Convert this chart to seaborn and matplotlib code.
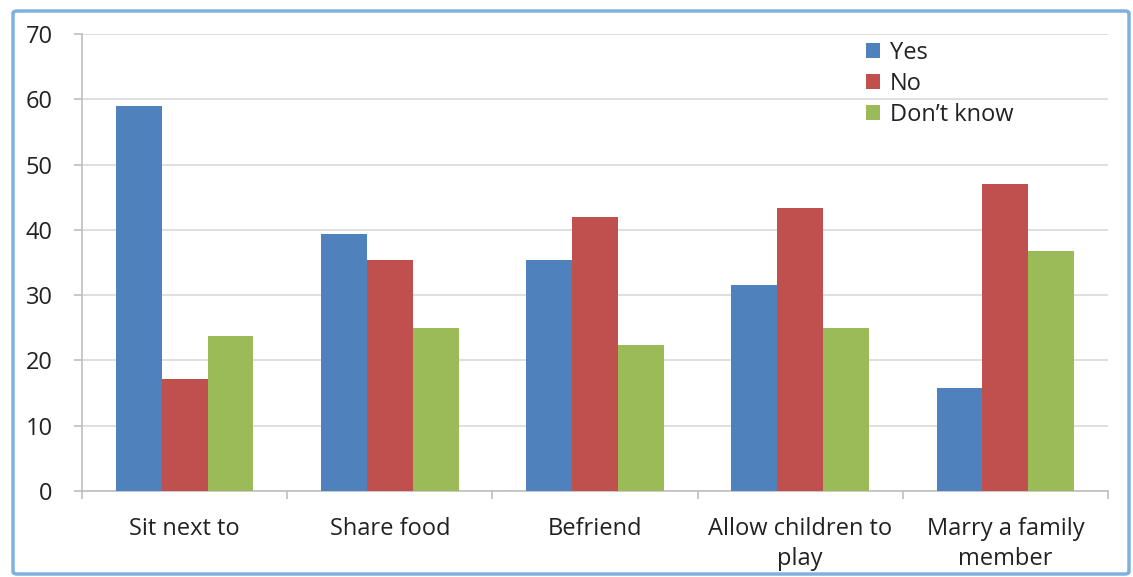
import matplotlib
matplotlib.use("Agg")
import matplotlib.pyplot as plt
from matplotlib.patches import FancyBboxPatch
from matplotlib.ticker import FixedLocator, MultipleLocator
import seaborn as sns
import pandas as pd

categories = ["Sit next to", "Share food", "Befriend", "Allow children to\nplay", "Marry a family\nmember"]
series = ["Yes", "No", "Don\u2019t know"]
yes_vals = [59.0, 39.4, 35.4, 31.6, 15.8]
no_vals = [17.1, 35.4, 42.0, 43.3, 47.1]
dk_vals = [23.7, 25.0, 22.4, 25.0, 36.8]
colors = ["#4F81BD", "#C0504D", "#9BBB59"]

df = pd.DataFrame({
    "category": categories * 3,
    "answer": [series[0]] * 5 + [series[1]] * 5 + [series[2]] * 5,
    "value": yes_vals + no_vals + dk_vals,
})

sns.set_theme(style="white")
plt.rcParams["font.family"] = ["Open Sans", "DejaVu Sans"]

fig = plt.figure(figsize=(11.33, 5.77), dpi=100)
ax = fig.add_axes([82 / 1133, 1 - 491 / 577, (1108 - 82) / 1133, (491 - 34) / 577])

sns.barplot(data=df, x="category", y="value", hue="answer", order=categories,
            hue_order=series, palette=colors, width=0.67, gap=0, saturation=1,
            edgecolor="none", linewidth=0, ax=ax, zorder=3)

ax.set_ylim(0, 70)
ax.set_xlim(-0.5, 4.5)
ax.yaxis.set_major_locator(MultipleLocator(10))
ax.grid(axis="y", color="#D9D9D9", linewidth=1.2, zorder=0)
ax.set_axisbelow(True)
ax.set_xlabel("")
ax.set_ylabel("")

for side in ["top", "right"]:
    ax.spines[side].set_visible(False)
for side in ["left", "bottom"]:
    ax.spines[side].set_color("#BFBFBF")
    ax.spines[side].set_linewidth(1.2)

ax.tick_params(axis="y", which="major", length=6, color="#BFBFBF", width=1.2,
               labelsize=17, labelcolor="#222222", pad=15, left=True)
ax.tick_params(axis="x", which="major", length=0, labelsize=17, labelcolor="#222222", pad=19)
for lbl in ax.get_xticklabels():
    lbl.set_linespacing(1.3)
ax.xaxis.set_minor_locator(FixedLocator([-0.5, 0.5, 1.5, 2.5, 3.5, 4.5]))
ax.tick_params(axis="x", which="minor", length=6, color="#BFBFBF", width=1.2, bottom=True)

leg = ax.legend(loc="upper left", bbox_to_anchor=(0.755, 1.006), frameon=False,
                fontsize=17, handlelength=0.6, handleheight=0.6, handletextpad=0.4,
                labelspacing=0.3, borderaxespad=0.0)
for t in leg.get_texts():
    t.set_color("#222222")

border = FancyBboxPatch((13 / 1133, 3 / 577), 1 - 17 / 1133, 1 - 14 / 577,
                        boxstyle="round,pad=0,rounding_size=0.004",
                        transform=fig.transFigure, fill=False,
                        edgecolor="#7EB1E0", linewidth=2.5)
fig.patches.append(border)

fig.savefig("out.png", dpi=100)
